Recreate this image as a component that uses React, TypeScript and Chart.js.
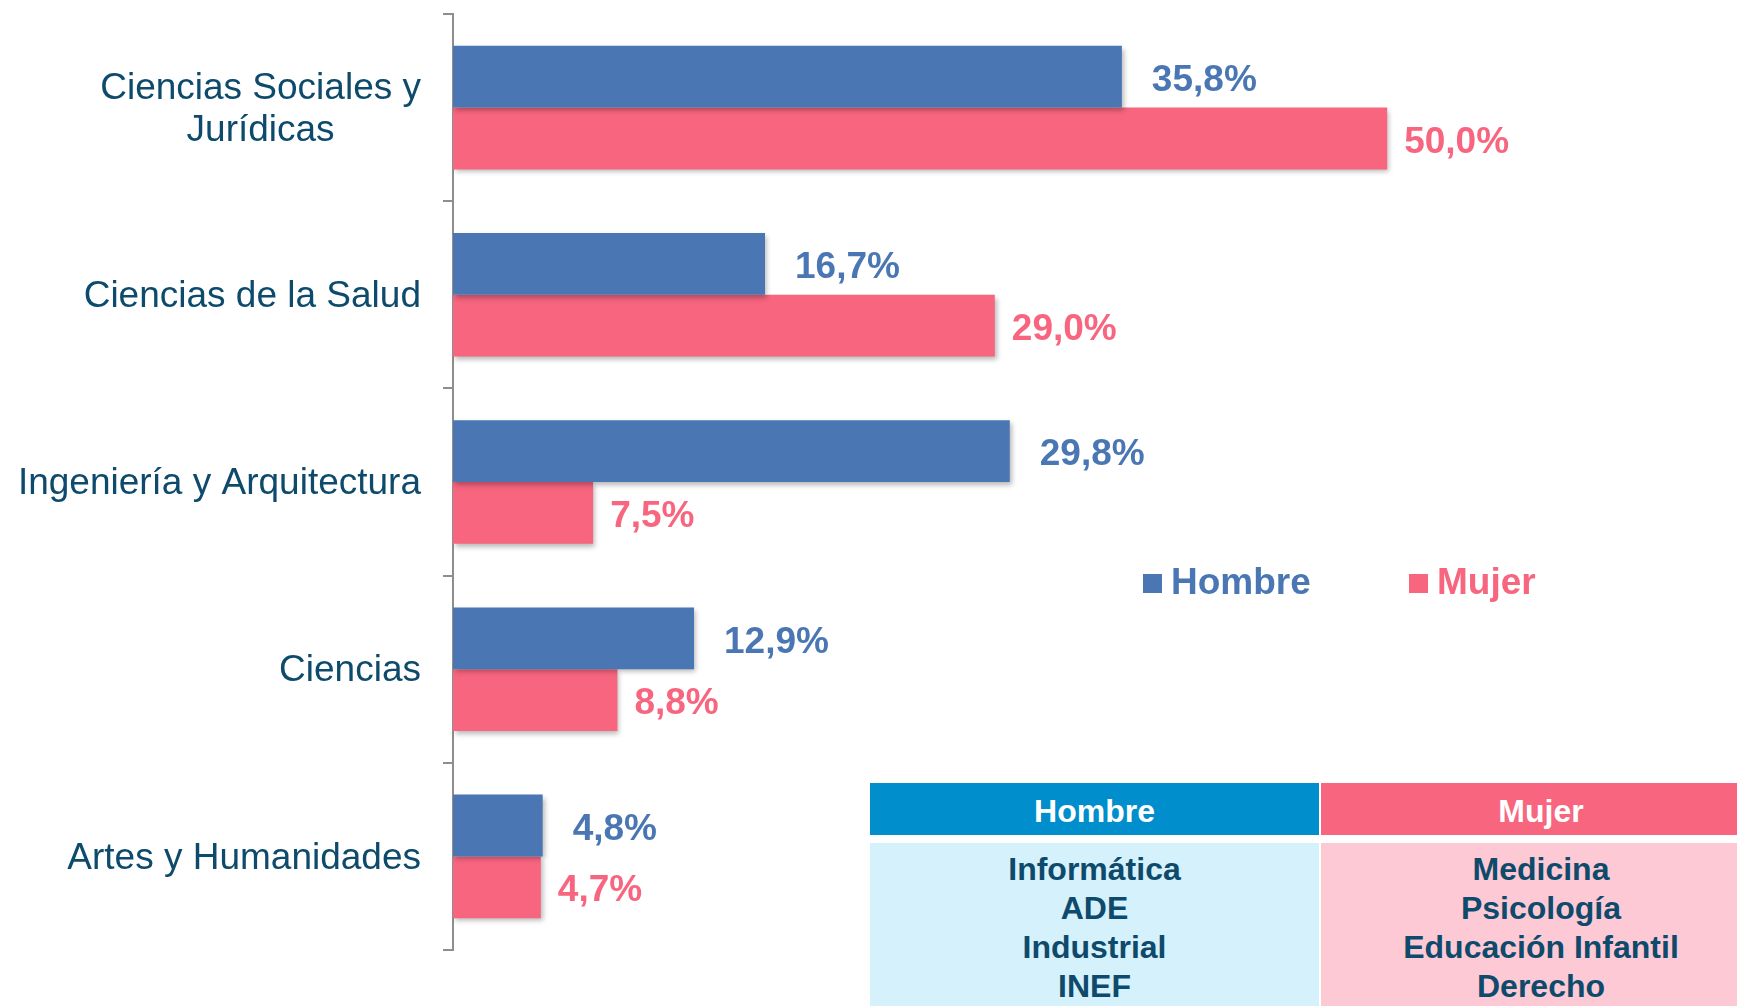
import React, { useEffect, useRef } from 'react';
import { Chart, registerables } from 'chart.js';

Chart.register(...registerables);

const categories: string[][] = [
  ['Ciencias Sociales y', 'Jurídicas'],
  ['Ciencias de la Salud'],
  ['Ingeniería y Arquitectura'],
  ['Ciencias'],
  ['Artes y Humanidades'],
];
const seriesNames = ['Hombre', 'Mujer'];
const hombreValues = [35.8, 16.7, 29.8, 12.9, 4.8];
const mujerValues = [50.0, 29.0, 7.5, 8.8, 4.7];
const tableHombre = ['Informática', 'ADE', 'Industrial', 'INEF'];
const tableMujer = ['Medicina', 'Psicología', 'Educación Infantil', 'Derecho'];

const BLUE = '#4A77B4';
const PINK = '#F7657F';
const TEXT_DARK = '#0D4A6B';
const AXIS_GRAY = '#8E8E8E';
const FONT = '"Liberation Sans", Arial, Helvetica, sans-serif';

const shadowPlugin = {
  id: 'barShadow',
  beforeDatasetDraw(chart: any) {
    const ctx = chart.ctx;
    ctx.save();
    ctx.shadowColor = 'rgba(0,0,0,0.28)';
    ctx.shadowBlur = 5;
    ctx.shadowOffsetX = 2;
    ctx.shadowOffsetY = 3;
  },
  afterDatasetDraw(chart: any) {
    chart.ctx.restore();
  },
};

const valueLabelPlugin = {
  id: 'valueLabels',
  afterDatasetsDraw(chart: any) {
    const ctx = chart.ctx;
    chart.data.datasets.forEach((ds: any, di: number) => {
      const meta = chart.getDatasetMeta(di);
      meta.data.forEach((el: any, i: number) => {
        const v = ds.data[i] as number;
        const txt = v.toFixed(1).replace('.', ',') + '%';
        ctx.save();
        ctx.font = `bold 37px ${FONT}`;
        ctx.fillStyle = ds.backgroundColor;
        ctx.textAlign = 'left';
        ctx.textBaseline = 'middle';
        ctx.fillText(txt, el.x + (di === 0 ? 30 : 17), el.y + 4);
        ctx.restore();
      });
    });
  },
};

const categoryLabelPlugin = {
  id: 'categoryLabels',
  afterDraw(chart: any) {
    const ctx = chart.ctx;
    const yScale = chart.scales.y;
    const labels = chart.data.labels as any[];
    ctx.save();
    ctx.font = `37px ${FONT}`;
    ctx.fillStyle = TEXT_DARK;
    ctx.textAlign = 'center';
    ctx.textBaseline = 'middle';
    labels.forEach((lab: any, i: number) => {
      const lines: string[] = Array.isArray(lab) ? lab : [lab];
      const y = yScale.getPixelForTick(i);
      const maxW = Math.max(...lines.map((l) => ctx.measureText(l).width));
      const cx = yScale.right - 32 - maxW / 2;
      const lh = 42;
      lines.forEach((l, j) => {
        ctx.fillText(l, cx, y + (j - (lines.length - 1) / 2) * lh + 2);
      });
    });
    ctx.restore();
  },
};

const legendPlugin = {
  id: 'customLegend',
  afterDraw(chart: any) {
    const ctx = chart.ctx;
    const positions = [1143, 1409];
    const cy = 583;
    ctx.save();
    ctx.font = `bold 37px ${FONT}`;
    ctx.textAlign = 'left';
    ctx.textBaseline = 'middle';
    chart.data.datasets.forEach((ds: any, di: number) => {
      const x = positions[di];
      ctx.fillStyle = ds.backgroundColor;
      ctx.fillRect(x, cy - 9, 19, 19);
      ctx.fillText(ds.label, x + 28, cy + 1);
    });
    ctx.restore();
  },
};

export default function App() {
  const canvasRef = useRef<HTMLCanvasElement | null>(null);

  useEffect(() => {
    if (!canvasRef.current) return;
    const chart = new Chart(canvasRef.current, {
      type: 'bar',
      data: {
        labels: categories as any,
        datasets: [
          {
            label: seriesNames[0],
            data: hombreValues,
            backgroundColor: BLUE,
            borderWidth: 0,
            categoryPercentage: 0.66,
            barPercentage: 1.0,
          },
          {
            label: seriesNames[1],
            data: mujerValues,
            backgroundColor: PINK,
            borderWidth: 0,
            categoryPercentage: 0.66,
            barPercentage: 1.0,
          },
        ],
      },
      options: {
        indexAxis: 'y',
        responsive: false,
        animation: false,
        devicePixelRatio: 1,
        layout: { padding: { top: 14, bottom: 56, left: 0, right: 163 } },
        plugins: {
          legend: { display: false },
          tooltip: { enabled: false },
        },
        scales: {
          x: {
            display: false,
            min: 0,
            max: 60,
          },
          y: {
            afterFit(scale: any) {
              scale.width = 453;
            },
            grid: {
              display: true,
              drawOnChartArea: false,
              drawTicks: true,
              tickLength: 10,
              color: AXIS_GRAY,
              lineWidth: 2,
              offset: true,
            },
            border: { display: true, color: AXIS_GRAY, width: 2 },
            ticks: { display: false },
          },
        },
      } as any,
      plugins: [shadowPlugin, valueLabelPlugin, categoryLabelPlugin, legendPlugin],
    });
    return () => chart.destroy();
  }, []);

  const cellText: React.CSSProperties = {
    font: `bold 32px ${FONT}`,
    color: TEXT_DARK,
    textAlign: 'center',
    lineHeight: '39px',
  };

  const headerStyle: React.CSSProperties = {
    position: 'absolute', top: 783, height: 52, color: '#fff', font: `bold 32px ${FONT}`,
    display: 'flex', alignItems: 'center', justifyContent: 'center',
    paddingTop: 5, boxSizing: 'border-box',
  };

  return (
    <div
      style={{
        position: 'absolute',
        left: 0,
        top: 0,
        width: 1737,
        height: 1006,
        overflow: 'hidden',
        background: '#fff',
      }}
    >
      <canvas ref={canvasRef} width={1737} height={1006} style={{ width: 1737, height: 1006, display: 'block' }} />
      <div style={{ ...headerStyle, left: 870, width: 449, background: '#008ECC' }}>
        {seriesNames[0]}
      </div>
      <div style={{ ...headerStyle, left: 1321, width: 440, background: PINK }}>
        {seriesNames[1]}
      </div>
      <div
        style={{
          position: 'absolute', left: 870, top: 843, width: 449, height: 180,
          background: '#D5F1FC', paddingTop: 7, boxSizing: 'border-box',
        }}
      >
        {tableHombre.map((t) => (
          <div key={t} style={cellText}>{t}</div>
        ))}
      </div>
      <div
        style={{
          position: 'absolute', left: 1321, top: 843, width: 440, height: 180,
          background: '#FDC9D5', paddingTop: 7, boxSizing: 'border-box',
        }}
      >
        {tableMujer.map((t) => (
          <div key={t} style={cellText}>{t}</div>
        ))}
      </div>
    </div>
  );
}
